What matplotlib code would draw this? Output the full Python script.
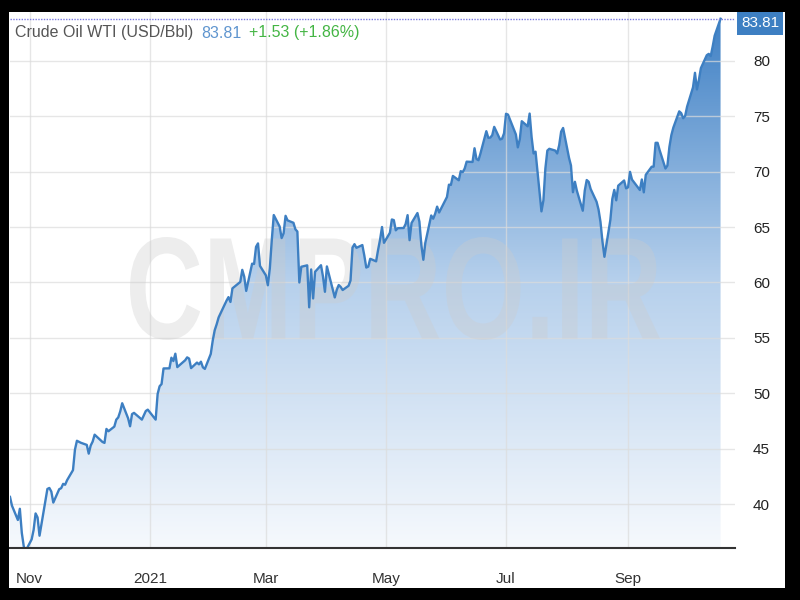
import numpy as np
import pandas as pd
import matplotlib
matplotlib.use("Agg")
import matplotlib.pyplot as plt
import matplotlib.dates as mdates
from matplotlib.patches import Polygon, Rectangle, PathPatch
from matplotlib.textpath import TextPath
from matplotlib.font_manager import FontProperties
from matplotlib.transforms import Affine2D

plt.rcParams['font.family'] = ['Liberation Sans', 'DejaVu Sans']

# daily WTI closes, month by month
oct20 = [40.64, 39.85, 38.56, 39.57, 37.39, 36.17, 35.79]
nov20 = [36.81, 37.66, 39.15, 38.79, 37.14, 40.29, 41.36, 41.45, 41.12, 40.13,
         41.34, 41.43, 41.82, 41.74, 42.15, 43.06, 44.91, 45.71, 45.53, 45.34]
dec20 = [44.55, 45.28, 45.64, 46.26, 45.76, 45.60, 45.52, 46.78, 46.57, 46.99,
         47.62, 47.82, 48.36, 49.10, 47.74, 47.02, 48.12, 48.23, 47.62, 48.00,
         48.40, 48.52]
jan21 = [47.62, 49.93, 50.63, 50.83, 52.24, 52.25, 53.21, 52.91, 53.57, 52.36,
         52.98, 53.24, 53.13, 52.27, 52.77, 52.61, 52.85, 52.34, 52.20]
feb21 = [53.55, 54.76, 55.69, 56.23, 56.85, 57.97, 58.36, 58.68, 58.24, 59.47,
         60.05, 61.14, 60.52, 59.24, 61.70, 61.67, 63.22, 63.53, 61.50]
mar21 = [60.64, 59.75, 61.28, 63.83, 66.09, 65.05, 64.01, 64.44, 66.02, 65.61,
         65.39, 64.80, 64.60, 60.00, 61.42, 61.55, 57.76, 61.18, 58.56, 60.97,
         61.56, 60.55, 59.16]
apr21 = [61.45, 58.65, 59.33, 59.77, 59.60, 59.32, 59.70, 60.18, 63.15, 63.46,
         63.13, 63.38, 62.44, 61.35, 61.43, 62.14, 61.91, 62.94, 63.86, 65.01,
         63.58]
may21 = [64.49, 65.69, 65.63, 64.71, 64.90, 64.92, 65.28, 66.08, 63.82, 65.37,
         66.27, 65.49, 63.36, 62.05, 63.58, 66.05, 65.76, 66.21, 66.85, 66.32]
jun21 = [67.72, 68.83, 68.81, 69.62, 69.23, 70.05, 69.96, 70.29, 70.91, 70.88,
         72.12, 71.15, 71.04, 71.64, 73.66, 73.06, 73.08, 73.30, 74.05, 72.91,
         72.98, 73.47]
jul21 = [75.23, 75.16, 73.37, 72.20, 72.94, 74.56, 74.10, 75.25, 73.13, 71.65,
         71.81, 66.42, 67.42, 70.30, 71.91, 72.07, 71.91, 71.65, 72.39, 73.62,
         73.95]
aug21 = [71.26, 70.56, 68.15, 69.09, 68.28, 66.48, 68.29, 69.25, 69.09, 68.44,
         67.29, 66.59, 65.46, 63.69, 62.32, 65.64, 67.54, 68.36, 67.42, 68.74,
         69.21, 68.50]
sep21 = [68.59, 69.99, 69.29, 68.35, 69.30, 68.14, 69.72, 70.45, 70.46, 72.61,
         72.61, 71.97, 70.29, 70.56, 72.23, 73.30, 73.98, 75.45, 75.29, 74.83,
         75.03]
oct21 = [75.88, 77.62, 78.93, 77.43, 78.30, 79.35, 80.52, 80.64, 80.44, 81.31,
         82.28, 83.81]

holidays = ['2020-11-26', '2020-12-25', '2021-01-01', '2021-01-18', '2021-02-15',
            '2021-04-02', '2021-05-31', '2021-07-05', '2021-09-06']
month_ticks = ['2020-11-01', '2021-01-01', '2021-03-01', '2021-05-01', '2021-07-01', '2021-09-01']
month_labels = ['Nov', '2021', 'Mar', 'May', 'Jul', 'Sep']
y_ticks = [40, 45, 50, 55, 60, 65, 70, 75, 80]
last_price = 83.81

prices = np.array(oct20 + nov20 + dec20 + jan21 + feb21 + mar21 + apr21 + may21
                  + jun21 + jul21 + aug21 + sep21 + oct21)
days = pd.bdate_range('2020-10-22', '2021-10-18')
days = days[~days.isin(pd.to_datetime(holidays))]
x = mdates.date2num(days.to_pydatetime())

line_color = '#3d7fc2'

fig = plt.figure(figsize=(8, 6), dpi=100, facecolor='black')
# white card inside the black frame
fig.add_artist(Rectangle((9 / 800, 12 / 600), 776 / 800, 576 / 600,
                         transform=fig.transFigure, facecolor='white',
                         edgecolor='none', zorder=-5))

ax = fig.add_axes([10 / 800, 52 / 600, 725 / 800, 536 / 600])
ax.set_facecolor('white')

xmin = mdates.date2num(pd.Timestamp('2020-10-22'))
xmax = mdates.date2num(pd.Timestamp('2021-10-25 08:00'))
ymin, ymax = 36.03, 84.42

# gradient fill under the line
cmap = matplotlib.colors.LinearSegmentedColormap.from_list(
    'wti', ['#f6f9fd', '#b6d0ec', '#3d7fc4'])
grad = np.linspace(0, 1, 256).reshape(-1, 1)
im = ax.imshow(grad, cmap=cmap, origin='lower', aspect='auto',
               extent=[xmin, xmax, ymin, ymax], zorder=1)
verts = np.vstack([[x[0], ymin - 5], np.column_stack([x, prices]), [x[-1], ymin - 5]])
clip_poly = Polygon(verts, closed=True, facecolor='none', edgecolor='none',
                    transform=ax.transData)
ax.add_patch(clip_poly)
im.set_clip_path(clip_poly)

ax.plot(x, prices, color=line_color, lw=1.7, zorder=4, solid_joinstyle='round')
ax.axhline(last_price, color='#7b7be0', lw=1.0, ls=(0, (1, 1)), zorder=5)

# grid
for t in y_ticks:
    ax.axhline(t, color='#dcdcdc', lw=1, alpha=0.7, zorder=2)
for t in month_ticks:
    ax.axvline(mdates.date2num(pd.Timestamp(t)), color='#dcdcdc', lw=1, alpha=0.7, zorder=2)

# watermark
tp = TextPath((0, 0), 'CMPRO.IR', size=100,
              prop=FontProperties(family='Liberation Sans', weight='bold'))
ext = tp.get_extents()
wm_tr = (Affine2D().translate(-ext.x0, -ext.y0)
         .scale(530 / ext.width, 103 / ext.height)
         .translate(130, 260).scale(1 / 100) + fig.dpi_scale_trans)
ax.add_artist(PathPatch(tp, transform=wm_tr, facecolor='#cccccc', edgecolor='none',
                        alpha=0.35, zorder=3))

ax.set_xlim(xmin, xmax)
ax.set_ylim(ymin, ymax)
ax.set_xticks(mdates.date2num(pd.to_datetime(month_ticks).to_pydatetime()))
ax.set_xticklabels(month_labels)
ax.yaxis.tick_right()
ax.set_yticks(y_ticks)
ax.set_yticklabels([str(t) for t in y_ticks])
ax.tick_params(axis='x', length=0, pad=17, labelsize=11, labelcolor='#333333')
ax.tick_params(axis='y', length=0, pad=13, labelsize=11, labelcolor='#222222')
for s in ['top', 'left', 'right']:
    ax.spines[s].set_visible(False)
ax.spines['bottom'].set_color('#333333')
ax.spines['bottom'].set_linewidth(1.5)
ax.spines['bottom'].set_zorder(6)

# price tag on the right
fig.add_artist(Rectangle((737 / 800, 1 - 35 / 600), 46 / 800, 23 / 600,
                         transform=fig.transFigure, facecolor='#3d7fc2',
                         edgecolor='none', zorder=5))
fig.text(760 / 800, 1 - 23 / 600, f'{last_price:.2f}', color='white', fontsize=11,
         ha='center', va='center', zorder=6)

# header
fig.text(15 / 800, 1 - 33 / 600, 'Crude Oil WTI (USD/Bbl)', color='#555555',
         fontsize=11.5, va='center')
fig.text(201 / 800, 1 - 33 / 600, f'{last_price:.2f}', color='#5f95cf',
         fontsize=11.5, va='center')
fig.text(249 / 800, 1 - 33 / 600, '+1.53 (+1.86%)', color='#44b544',
         fontsize=11.5, va='center')

fig.savefig('out.png', dpi=100, facecolor='black')
